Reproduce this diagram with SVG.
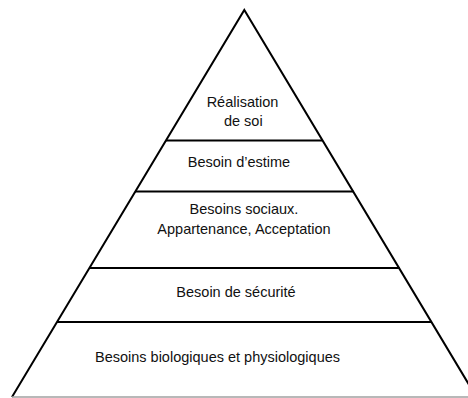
<svg xmlns="http://www.w3.org/2000/svg" width="468" height="398" viewBox="0 0 468 398">
<style>
.edge{stroke:#000;stroke-width:2;fill:none;stroke-linecap:butt}
.sep{stroke:#000;stroke-width:2}
.base{stroke:#a0a0a0;stroke-width:1.5}
text{font-family:"Liberation Sans",Arial,sans-serif;font-size:14.5px;fill:#111;text-anchor:middle}
</style>
<rect width="468" height="398" fill="#fff"/>
<g id="outline">
<polyline class="edge" points="12,397 244.3,10 477,398"/>
<line class="base" x1="12" y1="397" x2="468" y2="397"/>
<line class="sep" x1="166" y1="140.5" x2="322.5" y2="140.5"/>
<line class="sep" x1="135" y1="191.5" x2="353.5" y2="191.5"/>
<line class="sep" x1="89" y1="268" x2="399.5" y2="268"/>
<line class="sep" x1="57" y1="322" x2="432" y2="322"/>
</g>
<g id="level5"><text x="242.5" y="106.5">Réalisation</text><text x="243.3" y="125.5">de soi</text></g>
<g id="level4"><text x="239" y="166.5">Besoin d’estime</text></g>
<g id="level3"><text x="244" y="214">Besoins sociaux.</text><text x="244" y="234">Appartenance, Acceptation</text></g>
<g id="level2"><text x="236" y="297.3">Besoin de sécurité</text></g>
<g id="level1"><text x="217.5" y="362.3">Besoins biologiques et physiologiques</text></g>
</svg>
